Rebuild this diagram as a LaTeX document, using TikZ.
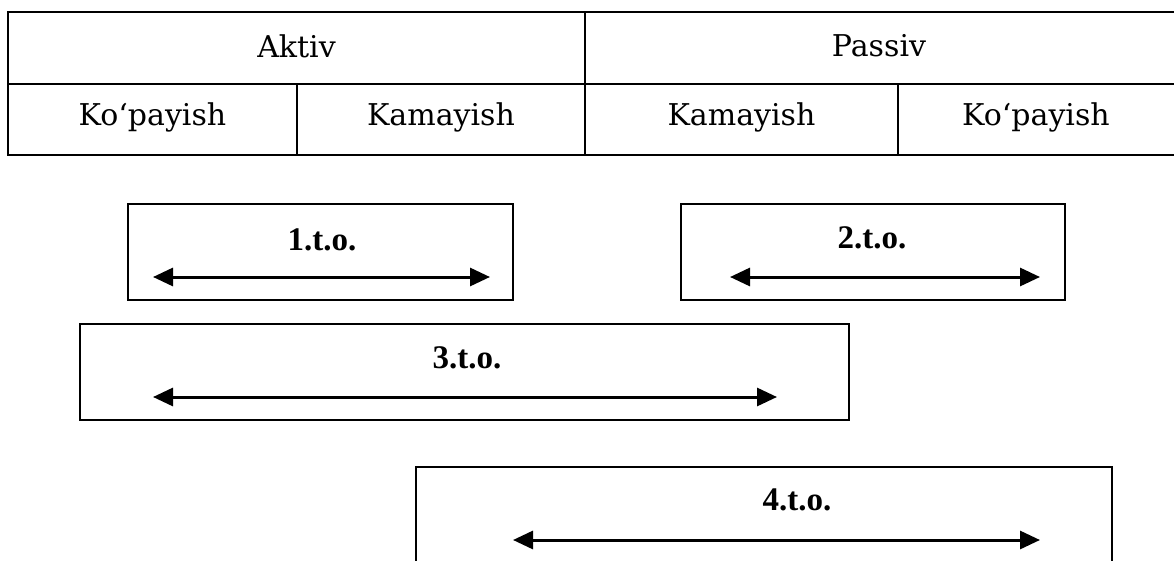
\documentclass[tikz,border=0pt]{standalone}
\usepackage{fontspec}
\setmainfont{DejaVu Serif}
\newfontfamily\lblfont{Liberation Serif}
\usetikzlibrary{arrows.meta}
\begin{document}
\begin{tikzpicture}[x=1pt,y=-1pt]
\tikzset{
  cell/.style={draw, line width=1.6pt, inner sep=0pt, font=\fontsize{30}{36}\selectfont},
  celltext/.style={inner sep=0pt, font=\fontsize{30}{36}\selectfont},
  tobox/.style={draw, line width=1.6pt, inner sep=0pt},
  tolabel/.style={inner sep=0pt, font=\lblfont\bfseries\fontsize{33}{40}\selectfont},
  dblarrow/.style={{Triangle[length=20pt,width=18pt]}-{Triangle[length=20pt,width=18pt]}, line width=3pt},
}
\useasboundingbox (0,0) rectangle (1174,561);
\clip (0,0) rectangle (1174,561);
% table
\node[cell, minimum width=577pt, minimum height=72pt] (aktiv) at (296.5,48) {};
\node[celltext] (aktivt) at (296.5,46) {Aktiv};
\node[cell, minimum width=600pt, minimum height=72pt] (passiv) at (885,48) {};
\node[celltext] (passivt) at (879,46) {Passiv};
\node[cell, minimum width=289pt, minimum height=71pt] (k1) at (152.5,119.5) {};
\node[celltext] (k1t) at (152.5,117) {Ko‘payish};
\node[cell, minimum width=288pt, minimum height=71pt] (k2) at (441,119.5) {};
\node[celltext] (k2t) at (441,117) {Kamayish};
\node[cell, minimum width=313pt, minimum height=71pt] (k3) at (741.5,119.5) {};
\node[celltext] (k3t) at (741.5,117) {Kamayish};
\node[cell, minimum width=290pt, minimum height=71pt] (k4) at (1043,119.5) {};
\node[celltext] (k4t) at (1036,117) {Ko‘payish};
% box 1
\node[tobox, minimum width=385pt, minimum height=96pt] (b1) at (320.5,252) {};
\node[tolabel] (l1) at (322,240) {1.t.o.};
\coordinate (a1s) at (153,277);
\coordinate (a1e) at (490,277);
\draw[dblarrow] (a1s) -- (a1e);
% box 2
\node[tobox, minimum width=384pt, minimum height=96pt] (b2) at (873,252) {};
\node[tolabel] (l2) at (872,238) {2.t.o.};
\coordinate (a2s) at (730,277);
\coordinate (a2e) at (1040,277);
\draw[dblarrow] (a2s) -- (a2e);
% box 3
\node[tobox, minimum width=769pt, minimum height=96pt] (b3) at (464.5,372) {};
\node[tolabel] (l3) at (467,358) {3.t.o.};
\coordinate (a3s) at (153,397);
\coordinate (a3e) at (777,397);
\draw[dblarrow] (a3s) -- (a3e);
% box 4
\node[tobox, minimum width=696pt, minimum height=140pt] (b4) at (764,537) {};
\node[tolabel] (l4) at (797,500) {4.t.o.};
\coordinate (a4s) at (513,540);
\coordinate (a4e) at (1040,540);
\draw[dblarrow] (a4s) -- (a4e);
\end{tikzpicture}
\end{document}
